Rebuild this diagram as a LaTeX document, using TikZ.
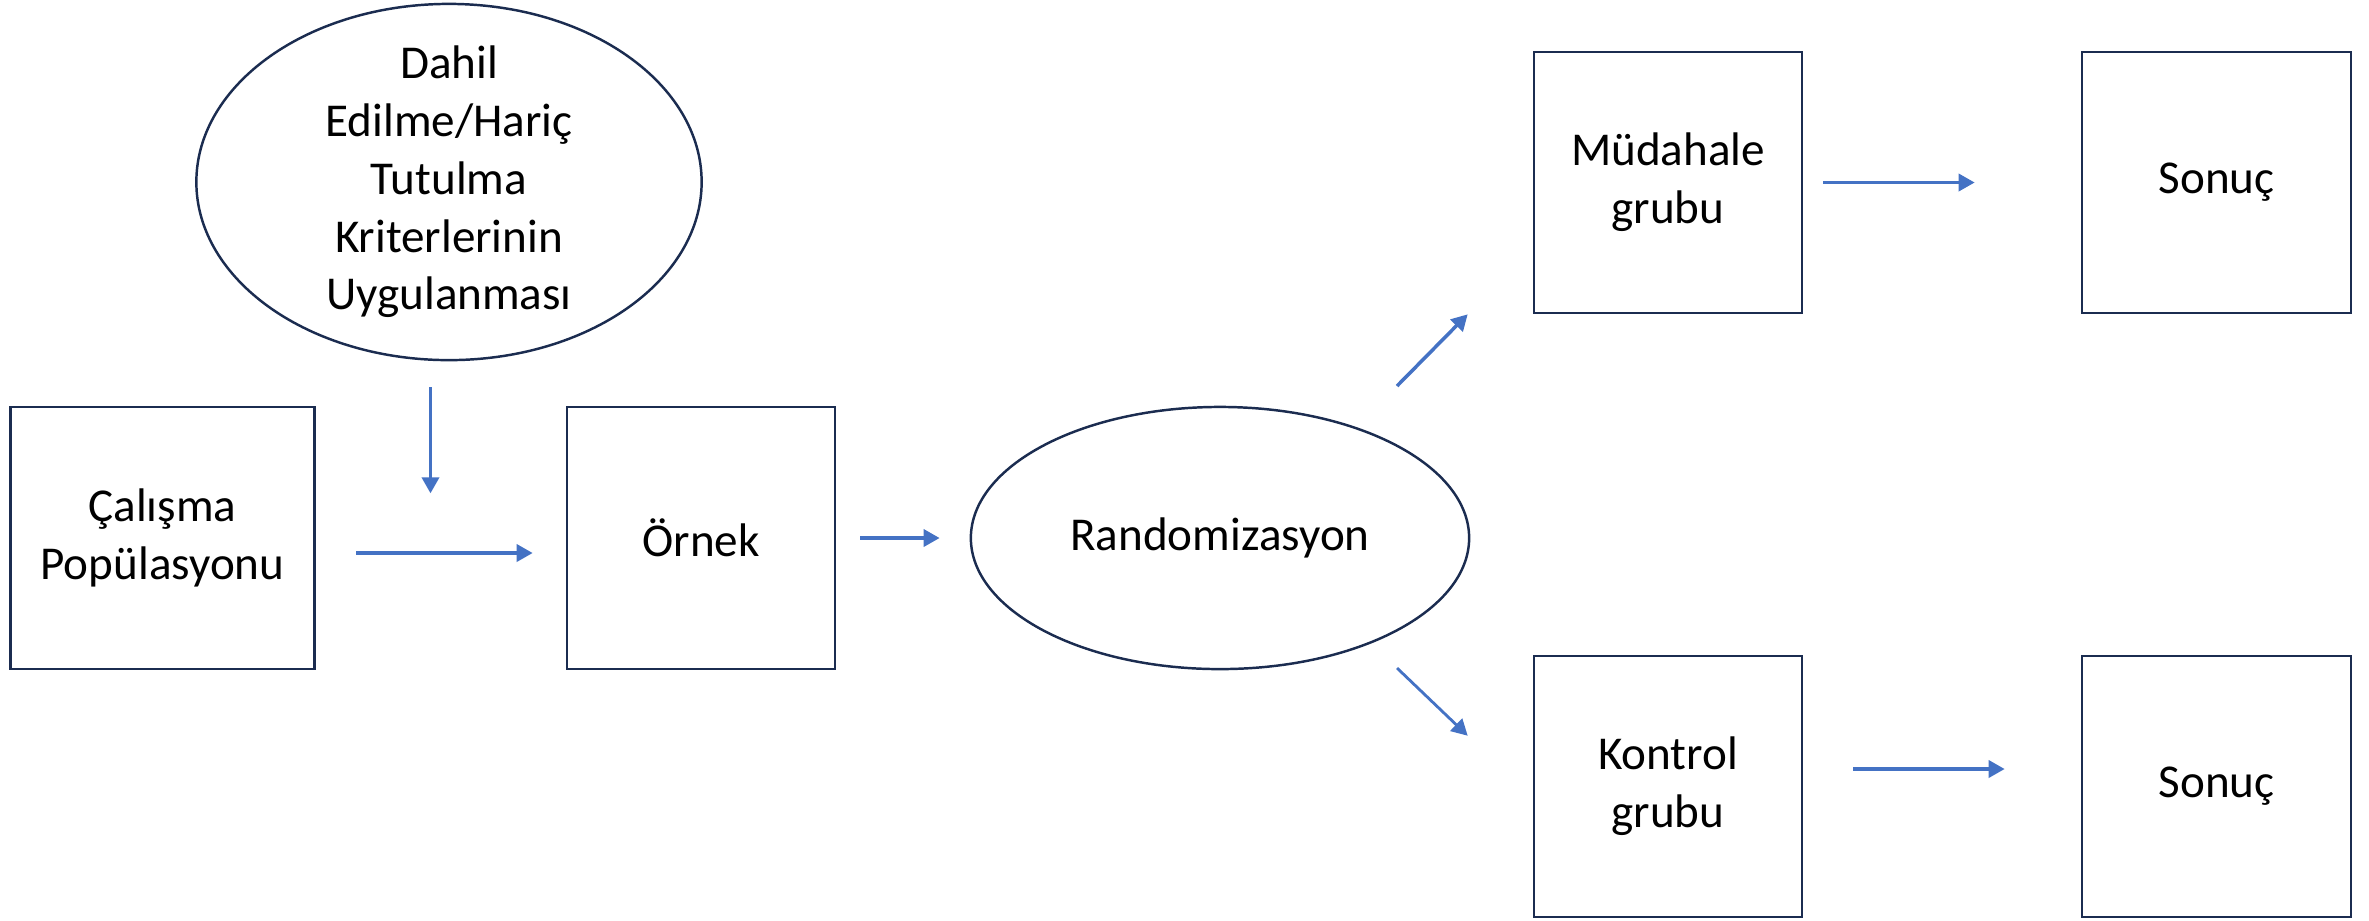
\documentclass[tikz,border=0pt]{standalone}
\usepackage{fontspec}
\setmainfont{Carlito}
\usetikzlibrary{shapes.geometric,arrows.meta,calc}
\definecolor{boxline}{HTML}{1B2C50}
\definecolor{arrowblue}{HTML}{4472C4}
\begin{document}
\begin{tikzpicture}[x=0.01cm,y=-0.01cm,
  every node/.style={font=\fontsize{13.4pt}{16.4pt}\selectfont, align=center, inner sep=0pt},
  boxnode/.style={draw=boxline, line width=0.7pt, rectangle, minimum width=2.68cm, minimum height=2.61cm},
  ellnode/.style={draw=boxline, line width=0.7pt, ellipse},
  arr/.style={draw=arrowblue, line width=1pt, -{Triangle[length=0.16cm,width=0.17cm]}}
]
\useasboundingbox (0,0) rectangle (2369,920);
\node[ellnode, minimum width=5.05cm, minimum height=3.56cm,
  label={[align=center]center:{Dahil\\Edilme/Hariç\\Tutulma\\Kriterlerinin\\Uygulanması}}] (incl) at (449,182) {};
\node[boxnode, minimum width=3.04cm, minimum height=2.62cm] (pop) at (162.5,538) {Çalışma\\Popülasyonu};
\node[boxnode, minimum height=2.62cm] (orn) at (701,538) {Örnek};
\node[ellnode, minimum width=4.98cm, minimum height=2.62cm] (rand) at (1220,538) {Randomizasyon};
\node[boxnode] (mud) at (1668,182.5) {Müdahale\\grubu};
\node[boxnode, minimum width=2.69cm] (son1) at (2216.5,182.5) {Sonuç};
\node[boxnode] (kon) at (1668,786.5) {Kontrol\\grubu};
\node[boxnode, minimum width=2.69cm] (son2) at (2216.5,786.5) {Sonuç};

\coordinate (vtip) at ($(incl.south)+(-18.5,132)$);
\draw[arr] ($(incl.south)+(-18.5,26)$) -- (vtip);
\draw[arr] ($(pop.east)+(40.5,15)$) -- ($(orn.west)+(-33,15)$);
\draw[arr] ($(orn.east)+(24,0)$) -- ($(rand.west)+(-30,0)$);
\draw[arr] ($(rand.center)+(177,-152)$) -- ($(mud.south west)+(-65,0)$);
\draw[arr, line width=0.8pt] ($(rand.center)+(177,130)$) -- ($(kon.north west)+(-65,81)$);
\draw[arr] ($(mud.east)+(20,0)$) -- ($(son1.west)+(-106,0)$);
\draw[arr] ($(kon.east)+(50,-17.5)$) -- ($(son2.west)+(-76,-17.5)$);
\end{tikzpicture}
\end{document}
